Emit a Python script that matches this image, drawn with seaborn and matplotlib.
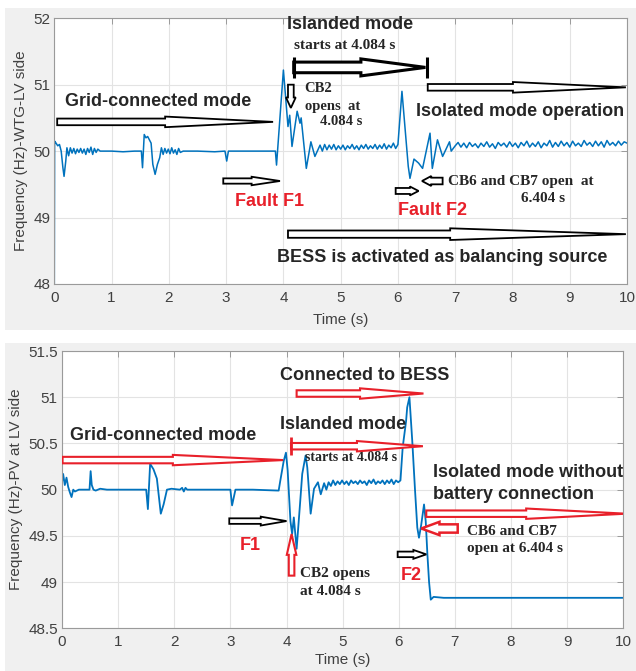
import numpy as np
import pandas as pd
import matplotlib
matplotlib.use('Agg')
import matplotlib.pyplot as plt
from matplotlib.patches import Rectangle, FancyArrow
import seaborn as sns

# -----------------------> Data ---------------------------------------------------------

wtg_time = [
    0.00, 0.005, 0.03, 0.06, 0.09, 0.12, 0.15, 0.17, 0.20, 0.22,
    0.25, 0.28, 0.31, 0.34, 0.37, 0.40, 0.43, 0.46, 0.49, 0.52,
    0.55, 0.58, 0.61, 0.64, 0.67, 0.70, 0.73, 0.76, 0.80, 1.00,
    1.20, 1.40, 1.52, 1.54, 1.57, 1.60, 1.63, 1.66, 1.69, 1.72,
    1.76, 1.80, 1.84, 1.87, 1.90, 1.93, 1.96, 1.99, 2.02, 2.05,
    2.08, 2.11, 2.14, 2.17, 2.20, 2.25, 2.50, 2.80, 2.98, 3.01,
    3.04, 3.30, 3.60, 3.86, 3.88, 4.00, 4.08, 4.11, 4.15, 4.24,
    4.29, 4.31, 4.40, 4.48, 4.55, 4.64, 4.68, 4.72, 4.76, 4.80,
    4.84, 4.88, 4.92, 4.96, 5.00, 5.04, 5.08, 5.12, 5.16, 5.20,
    5.24, 5.28, 5.32, 5.36, 5.40, 5.44, 5.48, 5.52, 5.56, 5.60,
    5.64, 5.68, 5.72, 5.76, 5.80, 5.84, 5.88, 5.92, 5.96, 6.00,
    6.07, 6.18, 6.21, 6.28, 6.36, 6.43, 6.56, 6.60, 6.69, 6.78,
    6.90, 6.93, 7.00, 7.05, 7.10, 7.15, 7.20, 7.25, 7.30, 7.35,
    7.40, 7.45, 7.50, 7.55, 7.60, 7.65, 7.70, 7.75, 7.80, 7.85,
    7.90, 7.95, 8.00, 8.05, 8.10, 8.15, 8.20, 8.25, 8.30, 8.35,
    8.40, 8.45, 8.50, 8.55, 8.60, 8.65, 8.70, 8.75, 8.80, 8.85,
    8.90, 8.95, 9.00, 9.05, 9.10, 9.15, 9.20, 9.25, 9.30, 9.35,
    9.40, 9.45, 9.50, 9.55, 9.60, 9.65, 9.70, 9.75, 9.80, 9.85,
    9.90, 9.95, 10.00,
]
wtg_freq = [
    48.00, 50.15, 50.12, 50.08, 50.10, 50.00, 49.75, 49.62, 49.85, 50.05,
    49.93, 50.05, 49.97, 50.04, 49.96, 50.03, 49.98, 50.04, 49.97, 50.03,
    49.95, 50.04, 49.98, 50.06, 49.95, 50.04, 49.98, 50.03, 50.00, 50.00,
    49.99, 50.00, 50.00, 49.75, 50.25, 50.20, 50.22, 50.17, 50.12, 49.80,
    49.65, 49.80, 49.90, 50.05, 49.95, 50.04, 49.97, 50.03, 49.96, 50.05,
    49.97, 50.02, 49.95, 50.04, 49.98, 50.00, 50.00, 49.99, 50.00, 49.85,
    50.00, 50.00, 50.00, 50.00, 49.79, 51.22, 50.37, 50.54, 50.07, 50.60,
    50.42, 50.50, 49.74, 50.14, 49.92, 50.09, 50.00, 50.10, 50.02, 50.09,
    50.03, 50.10, 50.02, 50.08, 50.03, 50.09, 50.02, 50.08, 50.04, 50.10,
    50.03, 50.08, 50.02, 50.09, 50.04, 50.10, 50.03, 50.08, 50.04, 50.10,
    50.03, 50.09, 50.04, 50.11, 50.03, 50.09, 50.05, 50.12, 50.04, 50.10,
    50.90, 49.77, 49.59, 49.88, 49.82, 49.74, 50.27, 49.74, 50.17, 49.92,
    50.14, 50.00, 50.08, 50.13, 50.06, 50.12, 50.05, 50.13, 50.07, 50.11,
    50.05, 50.12, 50.07, 50.14, 50.06, 50.11, 50.04, 50.13, 50.08, 50.12,
    50.06, 50.14, 50.07, 50.12, 50.05, 50.13, 50.08, 50.15, 50.06, 50.12,
    50.07, 50.14, 50.05, 50.12, 50.08, 50.16, 50.06, 50.13, 50.07, 50.15,
    50.08, 50.13, 50.06, 50.15, 50.08, 50.12, 50.07, 50.16, 50.09, 50.13,
    50.07, 50.15, 50.08, 50.14, 50.06, 50.16, 50.09, 50.13, 50.08, 50.15,
    50.09, 50.14, 50.12,
]

pv_time = [
    0.00, 0.02, 0.05, 0.08, 0.11, 0.14, 0.17, 0.20, 0.23, 0.30,
    0.45, 0.49, 0.51, 0.53, 0.56, 0.60, 0.68, 0.80, 1.10, 1.50,
    1.53, 1.57, 1.63, 1.69, 1.76, 1.81, 1.87, 1.95, 2.10, 2.14,
    2.17, 2.20, 2.23, 2.60, 3.00, 3.03, 3.09, 3.40, 3.86, 3.89,
    3.95, 3.99, 4.02, 4.07, 4.10, 4.13, 4.18, 4.24, 4.28, 4.34,
    4.37, 4.43, 4.49, 4.56, 4.61, 4.67, 4.71, 4.75, 4.79, 4.83,
    4.87, 4.91, 4.95, 4.99, 5.03, 5.07, 5.11, 5.15, 5.19, 5.23,
    5.27, 5.31, 5.35, 5.39, 5.43, 5.47, 5.51, 5.55, 5.59, 5.63,
    5.67, 5.71, 5.75, 5.79, 5.83, 5.87, 5.91, 5.95, 5.99, 6.03,
    6.07, 6.10, 6.13, 6.15, 6.19, 6.24, 6.29, 6.33, 6.36, 6.40,
    6.45, 6.48, 6.51, 6.54, 6.57, 6.62, 6.80, 7.50, 8.50, 10.00,
]
pv_freq = [
    50.08, 50.17, 50.05, 50.13, 50.03, 49.97, 49.92, 50.00, 49.98, 50.00,
    50.00, 50.00, 50.20, 50.05, 50.00, 49.99, 50.01, 50.00, 50.00, 50.00,
    49.79, 50.28, 50.22, 50.12, 49.74, 49.84, 50.00, 50.01, 50.00, 50.02,
    49.98, 50.02, 50.00, 50.00, 50.00, 49.83, 50.00, 50.00, 49.99, 50.10,
    50.31, 50.40, 50.21, 49.66, 49.52, 49.70, 49.36, 49.84, 50.17, 50.37,
    50.24, 49.74, 50.01, 50.08, 49.95, 50.07, 50.00, 50.08, 50.04, 50.10,
    50.05, 50.09, 50.06, 50.10, 50.06, 50.09, 50.05, 50.10, 50.07, 50.09,
    50.06, 50.10, 50.07, 50.09, 50.05, 50.10, 50.07, 50.11, 50.06, 50.09,
    50.07, 50.10, 50.06, 50.10, 50.07, 50.11, 50.06, 50.10, 50.08, 50.10,
    50.46, 50.60, 50.74, 50.89, 51.00, 50.53, 49.99, 49.59, 49.48, 49.62,
    49.84, 49.66, 49.30, 49.00, 48.81, 48.84, 48.83, 48.83, 48.83, 48.83,
]

x_ticks = [0, 1, 2, 3, 4, 5, 6, 7, 8, 9, 10]
wtg_yticks = [48, 49, 50, 51, 52]
pv_yticks = [48.5, 49, 49.5, 50, 50.5, 51, 51.5]
pv_ytick_labels = ['48.5', '49', '49.5', '50', '50.5', '51', '51.5']

wtg = pd.DataFrame({'Time': wtg_time, 'Freq': wtg_freq})
pv = pd.DataFrame({'Time': pv_time, 'Freq': pv_freq})

# -----------------------> Style ----------------------------------------------------------

sns.set_style('whitegrid')
plt.rcParams['font.family'] = ['Liberation Sans', 'DejaVu Sans']

BLUE = '#0072BD'
RED = '#e8202a'
GRAY_TXT = '#404040'
SANS = 'Liberation Sans'
SERIF = 'Liberation Serif'
BIG = 13
SMALL = 11


def hollow_arrow(ax, x0, x1, y, h, color='black', head=0.5, hw=1.6, lw=1.3):
    ax.add_patch(FancyArrow(x0, y, x1 - x0, 0, width=h, head_width=h * hw,
                            head_length=abs(x1 - x0) * head, length_includes_head=True,
                            fc='white', ec=color, lw=lw, zorder=4))


def vertical_arrow(ax, x, y0, y1, w, color='black', head=0.5, hw=1.7, lw=1.3):
    ax.add_patch(FancyArrow(x, y0, 0, y1 - y0, width=w, head_width=w * hw,
                            head_length=abs(y1 - y0) * head, length_includes_head=True,
                            fc='white', ec=color, lw=lw, zorder=4))


def style_axes(ax, ylim, yticks, ylabels, ylabel, xpad):
    ax.set_xlim(0, 10)
    ax.set_ylim(*ylim)
    ax.set_xticks(x_ticks)
    ax.set_yticks(yticks)
    ax.set_yticklabels(ylabels)
    ax.grid(True, color='#e3e3e3', lw=0.8)
    for s in ax.spines.values():
        s.set_color('#9a9a9a')
        s.set_linewidth(0.8)
    ax.tick_params(direction='in', length=4, width=0.7, color='#9a9a9a',
                   top=True, right=True, labelsize=11, labelcolor=GRAY_TXT)
    ax.tick_params(axis='x', pad=5)
    ax.tick_params(axis='y', pad=3)
    ax.set_xlabel('Time (s)', fontsize=11, color=GRAY_TXT, labelpad=xpad)
    ax.set_ylabel(ylabel, fontsize=11, color=GRAY_TXT, labelpad=4)


fig = plt.figure(figsize=(6.36, 6.71), dpi=100)
fig.patches.append(Rectangle((0.008, 0.508), 0.992, 0.48, transform=fig.transFigure,
                             fc='#f0f0f0', ec='none', zorder=-5))
fig.patches.append(Rectangle((0.008, 0.0), 0.992, 0.489, transform=fig.transFigure,
                             fc='#f0f0f0', ec='none', zorder=-5))

# -----------------------> Top panel : WTG --------------------------------------------

ax1 = fig.add_axes([0.0854, 0.5768, 0.9005, 0.396])
sns.lineplot(data=wtg, x='Time', y='Freq', ax=ax1, color=BLUE, lw=1.1, sort=False)
style_axes(ax1, (48, 52), wtg_yticks, [str(v) for v in wtg_yticks],
           'Frequency (Hz)-WTG-LV side', 6)

ax1.text(1.82, 50.75, 'Grid-connected mode', fontsize=BIG, weight='bold', family=SANS,
         ha='center', va='center')
hollow_arrow(ax1, 0.05, 3.82, 50.44, 0.1, head=0.5)
hollow_arrow(ax1, 2.95, 3.94, 49.55, 0.08, head=0.5)
ax1.text(3.75, 49.24, 'Fault F1', fontsize=BIG, weight='bold', family=SANS, color=RED,
         ha='center', va='center')

ax1.text(5.16, 51.91, 'Islanded mode', fontsize=BIG, weight='bold', family=SANS,
         ha='center', va='center')
ax1.text(5.07, 51.59, 'starts at 4.084 s', fontsize=SMALL, weight='bold', family=SERIF,
         ha='center', va='center')
hollow_arrow(ax1, 4.18, 6.48, 51.26, 0.16, head=0.49, hw=1.6, lw=2.2)
ax1.vlines([4.18, 6.5], 51.1, 51.42, color='black', lw=2.2, zorder=5)
vertical_arrow(ax1, 4.13, 51.0, 50.65, 0.1, head=0.45)
ax1.text(4.37, 50.94, 'CB2', fontsize=10.5, weight='bold', family=SERIF, va='center')
ax1.text(4.37, 50.67, 'opens  at', fontsize=10.5, weight='bold', family=SERIF, va='center')
ax1.text(4.64, 50.44, '4.084 s', fontsize=10.5, weight='bold', family=SERIF, va='center')

hollow_arrow(ax1, 6.52, 9.98, 50.96, 0.1, head=0.57)
ax1.text(8.13, 50.6, 'Isolated mode operation', fontsize=BIG, weight='bold', family=SANS,
         ha='center', va='center')
hollow_arrow(ax1, 5.96, 6.36, 49.4, 0.09, head=0.38, hw=1.5)
hollow_arrow(ax1, 6.78, 6.42, 49.55, 0.1, head=0.45, hw=1.5)
ax1.text(6.88, 49.54, 'CB6 and CB7 open  at', fontsize=SMALL, weight='bold', family=SERIF,
         va='center')
ax1.text(8.54, 49.28, '6.404 s', fontsize=SMALL, weight='bold', family=SERIF, ha='center',
         va='center')
ax1.text(6.6, 49.1, 'Fault F2', fontsize=BIG, weight='bold', family=SANS, color=RED,
         ha='center', va='center')

hollow_arrow(ax1, 4.08, 9.98, 48.75, 0.11, head=0.52)
ax1.text(6.78, 48.4, 'BESS is activated as balancing source', fontsize=BIG, weight='bold',
         family=SANS, ha='center', va='center')

# -----------------------> Bottom panel : PV --------------------------------------------

ax2 = fig.add_axes([0.0975, 0.0636, 0.8825, 0.4133])
sns.lineplot(data=pv, x='Time', y='Freq', ax=ax2, color=BLUE, lw=1.3, sort=False)
style_axes(ax2, (48.5, 51.5), pv_yticks, pv_ytick_labels,
           'Frequency (Hz)-PV at LV side', 3)

ax2.text(1.81, 50.59, 'Grid-connected mode', fontsize=BIG, weight='bold', family=SANS,
         ha='center', va='center')
hollow_arrow(ax2, 0.01, 3.94, 50.32, 0.07, color=RED, head=0.5, lw=1.5)
ax2.text(5.39, 51.24, 'Connected to BESS', fontsize=BIG, weight='bold', family=SANS,
         ha='center', va='center')
hollow_arrow(ax2, 4.18, 6.44, 51.04, 0.07, color=RED, head=0.5, lw=1.5)
ax2.text(5.01, 50.71, 'Islanded mode', fontsize=BIG, weight='bold', family=SANS,
         ha='center', va='center')
hollow_arrow(ax2, 4.08, 6.43, 50.47, 0.07, color=RED, head=0.5, lw=1.5)
ax2.vlines([4.08], 50.37, 50.57, color=RED, lw=2, zorder=5)
ax2.text(5.15, 50.35, 'starts at 4.084 s', fontsize=10, weight='bold', family=SERIF,
         ha='center', va='center')

hollow_arrow(ax2, 2.98, 4.0, 49.66, 0.06, head=0.45, hw=1.6)
ax2.text(3.35, 49.4, 'F1', fontsize=BIG, weight='bold', family=SANS, color=RED,
         ha='center', va='center')
vertical_arrow(ax2, 4.09, 49.07, 49.52, 0.1, color=RED, head=0.5, lw=1.5)
ax2.text(4.24, 49.09, 'CB2 opens', fontsize=SMALL, weight='bold', family=SERIF, va='center')
ax2.text(4.24, 48.9, 'at 4.084 s', fontsize=SMALL, weight='bold', family=SERIF, va='center')

ax2.text(6.61, 50.19, 'Isolated mode without', fontsize=BIG, weight='bold', family=SANS,
         va='center')
ax2.text(6.61, 49.95, 'battery connection', fontsize=BIG, weight='bold', family=SANS,
         va='center')
hollow_arrow(ax2, 6.49, 10.05, 49.74, 0.07, color=RED, head=0.5, lw=1.5)
hollow_arrow(ax2, 7.05, 6.40, 49.58, 0.09, color=RED, head=0.5, hw=1.6, lw=1.8)
ax2.text(7.21, 49.55, 'CB6 and CB7', fontsize=SMALL, weight='bold', family=SERIF, va='center')
ax2.text(7.21, 49.36, 'open at 6.404 s', fontsize=SMALL, weight='bold', family=SERIF,
         va='center')
hollow_arrow(ax2, 5.98, 6.49, 49.3, 0.06, head=0.45, hw=1.6)
ax2.text(6.23, 49.07, 'F2', fontsize=BIG, weight='bold', family=SANS, color=RED,
         ha='center', va='center')

fig.savefig('out.png', dpi=100)
